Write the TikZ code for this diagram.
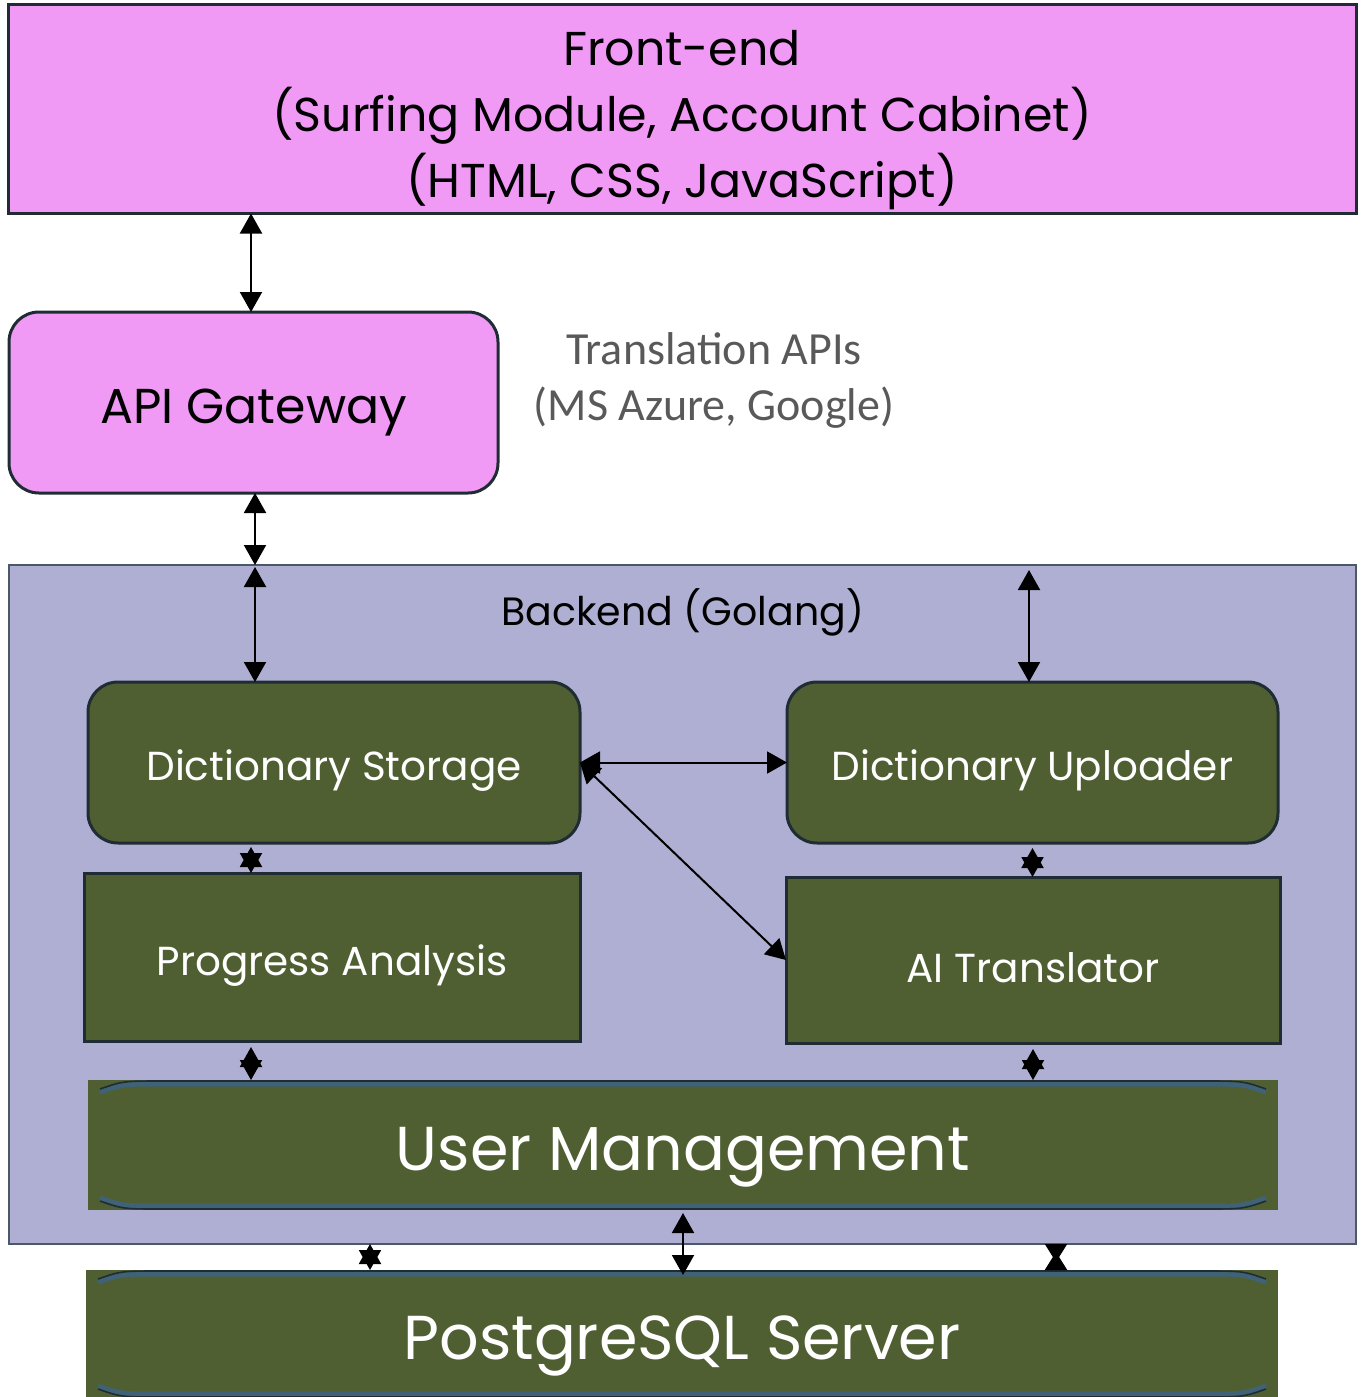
\documentclass[tikz,border=0pt]{standalone}
\usepackage{fontspec}
\setmainfont{Poppins}
\newfontfamily\calfont{Carlito}
\usetikzlibrary{arrows.meta,calc}
\definecolor{pinkfill}{HTML}{F09AF6}
\definecolor{lav}{HTML}{AFAFD3}
\definecolor{olive}{HTML}{4F5F32}
\definecolor{edge}{HTML}{1F2C33}
\definecolor{bkedge}{HTML}{4A5868}
\definecolor{band}{HTML}{3F6276}
\definecolor{apigray}{HTML}{595959}
% lower a label a little inside its box, keeping its box size
\newcommand\dn[1]{\raisebox{-0.2em}[\height][\depth]{#1}}
\begin{document}
\begin{tikzpicture}[x=1pt,y=-1pt,
  link/.style={line width=2pt,
    {Triangle[length=20pt,width=22pt]}-{Triangle[length=20pt,width=22pt]}},
  pinch/.style={line width=2pt,
    {Triangle[length=18pt,width=22pt,reversed]}-{Triangle[length=18pt,width=22pt,reversed]}},
  pinkbox/.style={draw=edge, line width=3pt, fill=pinkfill, text=black,
    inner sep=0pt, outer sep=0pt},
  olivebox/.style={draw=edge, line width=3pt, fill=olive, text=white,
    inner sep=0pt, outer sep=0pt, font=\fontsize{40.5}{48}\selectfont},
  bigbar/.style={fill=olive, text=white, inner sep=0pt, outer sep=0pt,
    font=\fontsize{62}{70}\selectfont},
  bandline/.style={draw=band, line width=5pt},
  bandedge/.style={draw=edge, line width=1.6pt}
]
\useasboundingbox (0,0) rectangle (1362,1397);

% top layer
\node[pinkbox, minimum width=1348pt, minimum height=209pt,
  font=\fontsize{47.5}{66}\selectfont] (fe) at (682,109)
  {\dn{\begin{tabular}{@{}c@{}}Front-end\\(Surfing Module, Account Cabinet)\\(HTML, CSS, JavaScript)\end{tabular}}};
\node[pinkbox, rounded corners=30pt, minimum width=489pt, minimum height=181pt,
  font=\fontsize{49}{56}\selectfont] (api) at (253.5,402.5) {\dn{API Gateway}};
\node[text=apigray, align=center, font=\calfont\fontsize{46}{56}\selectfont]
  (tapi) at (714,380) {Translation APIs\\(MS Azure, Google)};

% backend container
\node[draw=bkedge, line width=2.5pt, fill=lav, inner sep=0pt, outer sep=0pt,
  minimum width=1347pt, minimum height=679pt] (backend) at (682.5,904.5) {};
\node[font=\fontsize{39.5}{46}\selectfont, text=black] (bklabel) at (683,612)
  {Backend (Golang)};

% services
\node[olivebox, rounded corners=30pt, minimum width=492pt, minimum height=161pt]
  (ds) at (334,762.5) {\dn{Dictionary Storage}};
\node[olivebox, rounded corners=30pt, minimum width=491pt, minimum height=161pt]
  (du) at (1032.5,762.5) {\dn{Dictionary Uploader}};
\node[olivebox, minimum width=496pt, minimum height=168pt]
  (pa) at (332,957) {\dn{Progress Analysis}};
\node[olivebox, minimum width=494pt, minimum height=166pt]
  (ait) at (1033,960) {\dn{AI Translator}};

% user management and database bars
\node[bigbar, minimum width=1190pt, minimum height=130pt] (um) at (683,1145)
  {\dn{User Management}};
\node[bigbar, minimum width=1192pt, minimum height=128pt] (pg) at (682,1334)
  {\dn{PostgreSQL Server}};

\foreach \b in {um,pg}{
  \draw[bandline]
    ($(\b.north west)+(12,12)$) .. controls ($(\b.north west)+(35,4)$) ..
    ($(\b.north west)+(75,4)$) -- ($(\b.north east)+(-75,4)$)
    .. controls ($(\b.north east)+(-35,4)$) .. ($(\b.north east)+(-12,12)$);
  \draw[bandedge]
    ($(\b.north west)+(12,9)$) .. controls ($(\b.north west)+(35,1)$) ..
    ($(\b.north west)+(75,1)$) -- ($(\b.north east)+(-75,1)$)
    .. controls ($(\b.north east)+(-35,1)$) .. ($(\b.north east)+(-12,9)$);
  \draw[bandline]
    ($(\b.south west)+(12,-12)$) .. controls ($(\b.south west)+(35,-4)$) ..
    ($(\b.south west)+(75,-4)$) -- ($(\b.south east)+(-75,-4)$)
    .. controls ($(\b.south east)+(-35,-4)$) .. ($(\b.south east)+(-12,-12)$);
  \draw[bandedge]
    ($(\b.south west)+(12,-9)$) .. controls ($(\b.south west)+(35,-1)$) ..
    ($(\b.south west)+(75,-1)$) -- ($(\b.south east)+(-75,-1)$)
    .. controls ($(\b.south east)+(-35,-1)$) .. ($(\b.south east)+(-12,-9)$);
}

% connector columns
\coordinate (cA) at (251,0);
\coordinate (cB) at (255,0);
\coordinate (cC) at (1029,0);
\coordinate (cD) at (370,0);
\coordinate (cE) at (683,0);
\coordinate (cF) at (1056,0);

% connectors
\draw[link] (fe.south -| cA) -- (api.north -| cA);
\draw[link] (api.south -| cB) -- (backend.north -| cB);
\draw[link] ($(backend.north -| cB)+(0,2)$) -- (ds.north -| cB);
\draw[link] ($(backend.north -| cC)+(0,5)$) -- (du.north -| cC);
\draw[link] (ds.east) -- (du.west);
\draw[link] (ds.east) -- (ait.west);
\draw[link] ($(ds.south -| cA)+(0,4)$) -- (pa.north -| cA);
\draw[link] ($(du.south)+(0,5)$) -- (ait.north -| du.south);
\draw[link] ($(pa.south -| cA)+(0,6)$) -- (um.north -| cA);
\draw[link] ($(ait.south)+(0,6)$) -- (um.north -| ait.south);
\draw[link] (backend.south -| cD) -- (pg.north -| cD);
\draw[link] ($(um.south -| cE)+(0,3)$) -- ($(pg.north -| cE)+(0,5)$);
\draw[pinch] (backend.south -| cF) -- (pg.north -| cF);
\end{tikzpicture}
\end{document}
